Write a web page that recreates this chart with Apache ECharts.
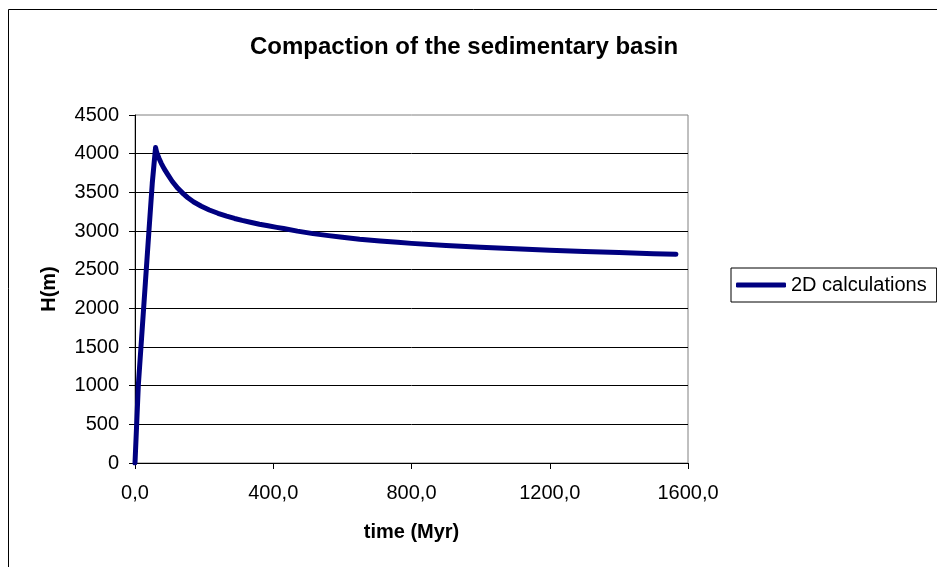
<!DOCTYPE html>
<html>
<head>
<meta charset="utf-8">
<script src="https://cdn.jsdelivr.net/npm/echarts@6/dist/echarts.min.js"></script>
<style>
  html, body { margin: 0; padding: 0; background: #ffffff; }
  #chart { width: 937px; height: 567px; }
</style>
</head>
<body>
<div id="chart"></div>
<script>
// Basin thickness through time (2D model output)
const timeMyr = [0, 9.7, 20, 30, 40, 50, 59.5, 62, 65, 70, 76, 85, 95, 108, 124, 140, 153, 170, 192, 215, 240, 265, 288, 310, 337, 360, 385, 410, 430, 470, 515, 560, 600, 650, 709, 760, 800, 900, 1000, 1100, 1200, 1300, 1400, 1500, 1565];
const heightM = [0, 1010, 1680, 2330, 2980, 3620, 4080, 4030, 3990, 3935, 3875, 3800, 3730, 3640, 3552, 3480, 3430, 3375, 3320, 3272, 3229, 3192, 3162, 3137, 3110, 3088, 3067, 3047, 3032, 2998, 2966, 2940, 2918, 2894, 2872, 2854, 2840, 2812, 2790, 2770, 2752, 2736, 2721, 2707, 2698];
const seriesName = '2D calculations';
const titleText = 'Compaction of the sedimentary basin';
const xAxisName = 'time (Myr)';
const yAxisName = 'H(m)';

const FONT = '"Liberation Sans", Arial, Helvetica, sans-serif';
const points = timeMyr.map((t, i) => [t, heightM[i]]);

const chart = echarts.init(document.getElementById('chart'), null, { renderer: 'canvas' });
chart.setOption({
  animation: false,
  backgroundColor: '#ffffff',
  title: {
    text: titleText,
    left: 250,
    top: 35,
    padding: 0,
    textStyle: { fontFamily: FONT, fontSize: 24, fontWeight: 'bold', color: '#000000' }
  },
  graphic: [{
    type: 'rect',
    shape: { x: 8.5, y: 9.5, width: 1200, height: 1200 },
    style: { fill: 'none', stroke: '#000000', lineWidth: 1 },
    silent: true,
    z: -1
  }],
  legend: {
    left: 731,
    top: 268,
    orient: 'vertical',
    padding: [7, 10, 7, 5],
    itemWidth: 50,
    itemHeight: 5,
    icon: 'roundRect',
    borderColor: '#000000',
    borderWidth: 1,
    borderRadius: 0,
    textStyle: { fontFamily: FONT, fontSize: 20, color: '#000000', lineHeight: 20 },
    data: [seriesName]
  },
  grid: {
    left: 135,
    top: 115,
    width: 553,
    height: 348,
    show: true,
    borderColor: '#808080',
    borderWidth: 1,
    backgroundColor: '#ffffff',
    containLabel: false,
    outerBoundsMode: 'none'
  },
  xAxis: {
    type: 'value',
    min: 0,
    max: 1600,
    interval: 400,
    name: xAxisName,
    nameLocation: 'middle',
    nameGap: 59,
    nameTextStyle: { fontFamily: FONT, fontSize: 20, fontWeight: 'bold', color: '#000000' },
    axisLine: { show: true, lineStyle: { color: '#000000', width: 1 } },
    axisTick: { show: true, inside: false, length: 6, lineStyle: { color: '#000000' } },
    axisLabel: {
      margin: 20,
      fontFamily: FONT,
      fontSize: 20,
      color: '#000000',
      formatter: v => v.toFixed(1).replace('.', ',')
    },
    splitLine: { show: false }
  },
  yAxis: {
    type: 'value',
    min: 0,
    max: 4500,
    interval: 500,
    name: yAxisName,
    nameLocation: 'middle',
    nameGap: 76,
    nameTextStyle: { fontFamily: FONT, fontSize: 20, fontWeight: 'bold', color: '#000000' },
    axisLine: { show: true, lineStyle: { color: '#000000', width: 1 } },
    axisTick: { show: true, inside: false, length: 6, lineStyle: { color: '#000000' } },
    axisLabel: {
      margin: 16, fontFamily: FONT, fontSize: 20, color: '#000000',
      formatter: v => String(v)
    },
    splitLine: { show: true, showMaxLine: false, lineStyle: { color: '#000000', width: 1 } }
  },
  series: [{
    name: seriesName,
    type: 'line',
    data: points,
    symbol: 'none',
    smooth: false,
    color: '#000080',
    lineStyle: { color: '#000080', width: 5, cap: 'round', join: 'round' }
  }]
});
</script>
</body>
</html>
